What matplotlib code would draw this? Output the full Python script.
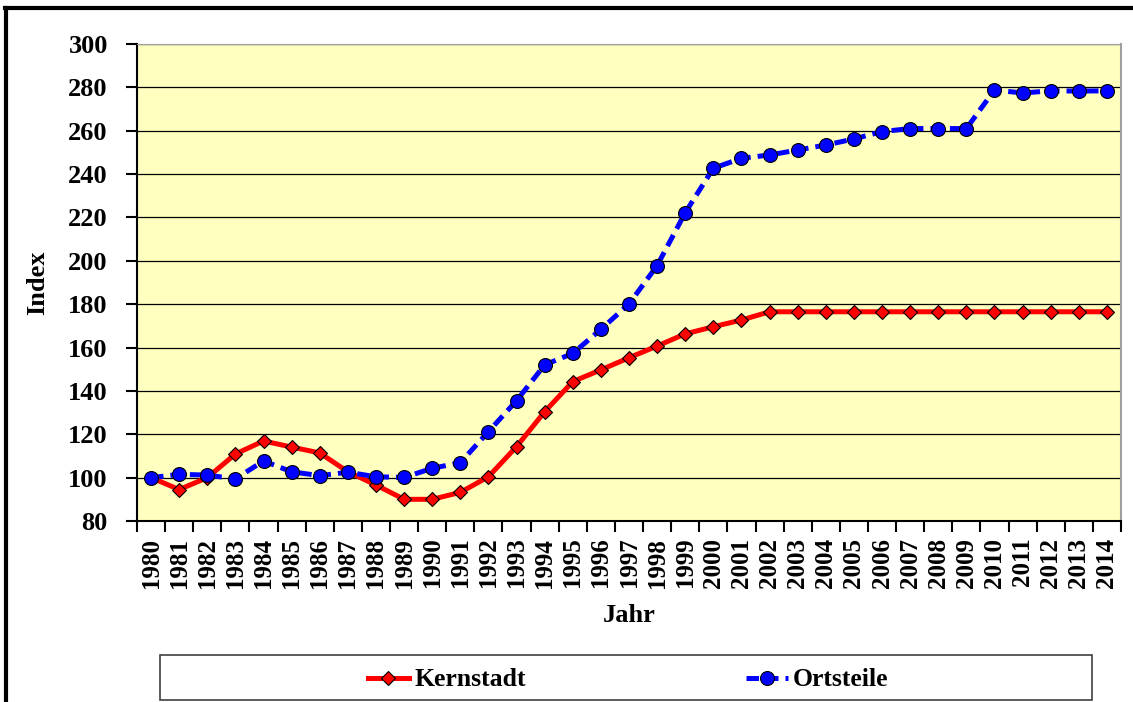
import matplotlib.pyplot as plt
from matplotlib.lines import Line2D
from matplotlib.patches import Rectangle

plt.rcParams['font.family'] = 'Liberation Serif'
plt.rcParams['font.weight'] = 'bold'

years = list(range(1980, 2015))

# Index values (1980 = 100)
kernstadt = [100, 94.5, 100, 110.9, 116.9, 114.1, 111.4, 102.7, 96.6, 90.0,
             90.0, 93.2, 100.4, 114.3, 130.4, 144.3, 149.7, 155.3, 160.7, 166.3,
             169.6, 172.7, 176.5, 176.5, 176.5, 176.5, 176.5, 176.5, 176.5, 176.5,
             176.5, 176.5, 176.5, 176.5, 176.5]
ortsteile = [100, 101.5, 101.2, 99.4, 107.7, 102.7, 100.9, 102.5, 100.4, 100.1,
             104.3, 106.9, 121.2, 135.5, 152.0, 157.3, 168.4, 180.1, 197.8, 222.2,
             242.7, 247.3, 248.8, 251.1, 253.4, 256.2, 259.6, 261.0, 261.0, 261.0,
             278.8, 277.4, 278.4, 278.3, 278.4]

fig = plt.figure(figsize=(11.33, 7.02), dpi=100)
ax = fig.add_axes([137 / 1133, 1 - 521 / 702, (1121 - 137) / 1133, (521 - 44) / 702])
ax.set_facecolor('#FFFFC0')

ax.plot(years, kernstadt, color='#FF0000', lw=3.6, marker='D', ms=7.5,
        mfc='#FF0000', mec='black', mew=0.8, label='Kernstadt', zorder=3)
ax.plot(years, ortsteile, color='#0000FF', lw=3.6, dashes=(2.5, 1.4),
        marker='o', ms=10, mfc='#0000FF', mec='black', mew=0.8,
        label='Ortsteile', zorder=4)

ax.set_xlim(1979.5, 2014.5)
ax.set_ylim(80, 300)
ax.set_yticks(range(80, 301, 20))
ax.yaxis.grid(True, color='black', lw=0.9)
ax.set_axisbelow(True)

ax.set_xticks(years)
ax.set_xticklabels([str(y) for y in years], rotation=90, fontsize=18, fontweight='bold')
ax.set_xticks([y + 0.5 for y in [1979] + years], minor=True)
ax.tick_params(axis='x', which='major', length=0, pad=12)
ax.tick_params(axis='x', which='minor', length=8, width=1.5, direction='out')
ax.tick_params(axis='y', length=8, width=1.5, direction='out', labelsize=19, pad=13)
for lab in ax.get_yticklabels():
    lab.set_fontweight('bold')

ax.spines['left'].set_linewidth(1.5)
ax.spines['bottom'].set_linewidth(1.5)
ax.spines['top'].set_color('#A0A0A0')
ax.spines['right'].set_color('#A0A0A0')
ax.spines['right'].set_linewidth(1.5)

ax.set_ylabel('Index', fontsize=19, fontweight='bold', labelpad=14)
ax.set_xlabel('Jahr', fontsize=19, fontweight='bold', labelpad=12)

# legend box at the bottom
fig.patches.append(Rectangle((160 / 1133, 2 / 702), 932 / 1133, 45 / 702,
                             transform=fig.transFigure, fill=False,
                             edgecolor='#404040', lw=1.2))
fig.legend(loc='center', bbox_to_anchor=(628 / 1133, 1 - 680 / 702), ncol=2,
           frameon=False, handlelength=1.6, handletextpad=0.2,
           columnspacing=8.6, prop={'weight': 'bold', 'size': 18.5})

# outer chart frame (top and left edges)
fig.add_artist(Line2D([6 / 1133, 6 / 1133], [0, 1 - 8 / 702],
                      transform=fig.transFigure, color='black', lw=3))
fig.add_artist(Line2D([5 / 1133, 1], [1 - 8 / 702, 1 - 8 / 702],
                      transform=fig.transFigure, color='black', lw=3))

fig.savefig('out.png', dpi=100)
